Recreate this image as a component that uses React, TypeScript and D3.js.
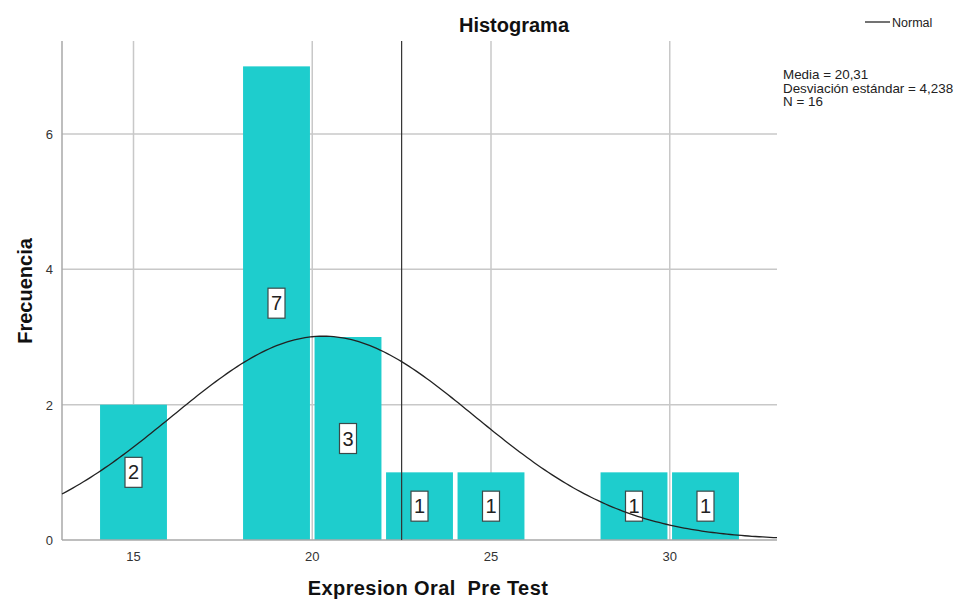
import React from "react";
import * as d3 from "d3";

const binStarts = [14, 16, 18, 20, 22, 24, 26, 28, 30];
const binCounts = [2, 0, 7, 3, 1, 1, 0, 1, 1];
const binWidth = 2;
const xTicks = [15, 20, 25, 30];
const yTicks = [0, 2, 4, 6];
const mean = 20.31;
const sd = 4.238;
const n = 16;
const refLine = 22.5;
const statsLines = ["Media = 20,31", "Desviación estándar = 4,238", "N = 16"];

const W = 958, H = 599;
const L = 62, R = 777, T = 41, B = 540;
const FONT = "Arial, 'Liberation Sans', sans-serif";

export default function App() {
  const x = d3.scaleLinear().domain([13, 33]).range([L, R]);
  const y = d3.scaleLinear().domain([0, 7.375]).range([B, T]);
  const bars = binStarts.map((s, i) => ({ s, c: binCounts[i] })).filter(d => d.c > 0);
  const pdf = (v: number) => (n * binWidth) / (sd * Math.sqrt(2 * Math.PI)) * Math.exp(-0.5 * ((v - mean) / sd) ** 2);
  const pts = d3.range(13, 33.001, 0.1).map(v => [v, pdf(v)] as [number, number]);
  const line = d3.line<[number, number]>().x(d => x(d[0])).y(d => y(d[1]))(pts) || "";
  const grid = "#c8c8c8";
  return (
    <svg width={W} height={H} style={{ position: "absolute", left: 0, top: 0, background: "#fff" }}>
      <rect width={W} height={H} fill="#fff" />
      {yTicks.filter(t => t > 0).map(t => (
        <line key={"gy" + t} x1={L} x2={R} y1={y(t)} y2={y(t)} stroke={grid} strokeWidth={1.5} />
      ))}
      {xTicks.map(t => (
        <line key={"gx" + t} x1={x(t)} x2={x(t)} y1={T} y2={B} stroke={grid} strokeWidth={1.5} />
      ))}
      {bars.map(d => (
        <rect key={"b" + d.s} x={x(d.s) + 2.3} width={x(d.s + binWidth) - x(d.s) - 4.6}
          y={y(d.c)} height={B - y(d.c)} fill="#1ecdcd" />
      ))}
      <line x1={L} x2={L} y1={T} y2={B} stroke="#a8a8a8" strokeWidth={1.5} />
      <line x1={L} x2={R} y1={B} y2={B} stroke="#a8a8a8" strokeWidth={1.5} />
      <line x1={x(refLine)} x2={x(refLine)} y1={T} y2={B} stroke="#333" strokeWidth={1.2} />
      {bars.map(d => {
        const cx = x(d.s + binWidth / 2);
        const cy = y(d.c / 2);
        return (
          <g key={"l" + d.s}>
            <rect x={cx - 8.5} y={cy - 15} width={17} height={30} fill="#fff" stroke="#3a4a4a" strokeWidth={1.2} />
            <text x={cx} y={cy + 7} textAnchor="middle" fontFamily={FONT} fontSize={20} fill="#222">{d.c}</text>
          </g>
        );
      })}
      <path d={line} fill="none" stroke="#222" strokeWidth={1.3} />
      {yTicks.map(t => (
        <text key={"ty" + t} x={53} y={y(t) + 5} textAnchor="end" fontFamily={FONT} fontSize={13} fill="#333">{t}</text>
      ))}
      {xTicks.map(t => (
        <text key={"tx" + t} x={x(t)} y={561} textAnchor="middle" fontFamily={FONT} fontSize={13} fill="#333">{t}</text>
      ))}
      <text x={514} y={32} textAnchor="middle" fontFamily={FONT} fontSize={20} fontWeight="bold" fill="#111">Histograma</text>
      <text x={428} y={595} textAnchor="middle" fontFamily={FONT} fontSize={20} fontWeight="bold" fill="#111"
        style={{ whiteSpace: "pre" }} xmlSpace="preserve" letterSpacing={0.4}>{"Expresion Oral  Pre Test"}</text>
      <text transform={`translate(32,291) rotate(-90)`} textAnchor="middle" fontFamily={FONT} fontSize={20} fontWeight="bold" fill="#111">Frecuencia</text>
      <line x1={865} x2={890} y1={22} y2={22} stroke="#444" strokeWidth={1.5} />
      <text x={892} y={27} fontFamily={FONT} fontSize={12.5} fill="#222">Normal</text>
      {statsLines.map((s, i) => (
        <text key={"s" + i} x={783} y={79 + i * 13.5} fontFamily={FONT} fontSize={13.4} fill="#222">{s}</text>
      ))}
    </svg>
  );
}
